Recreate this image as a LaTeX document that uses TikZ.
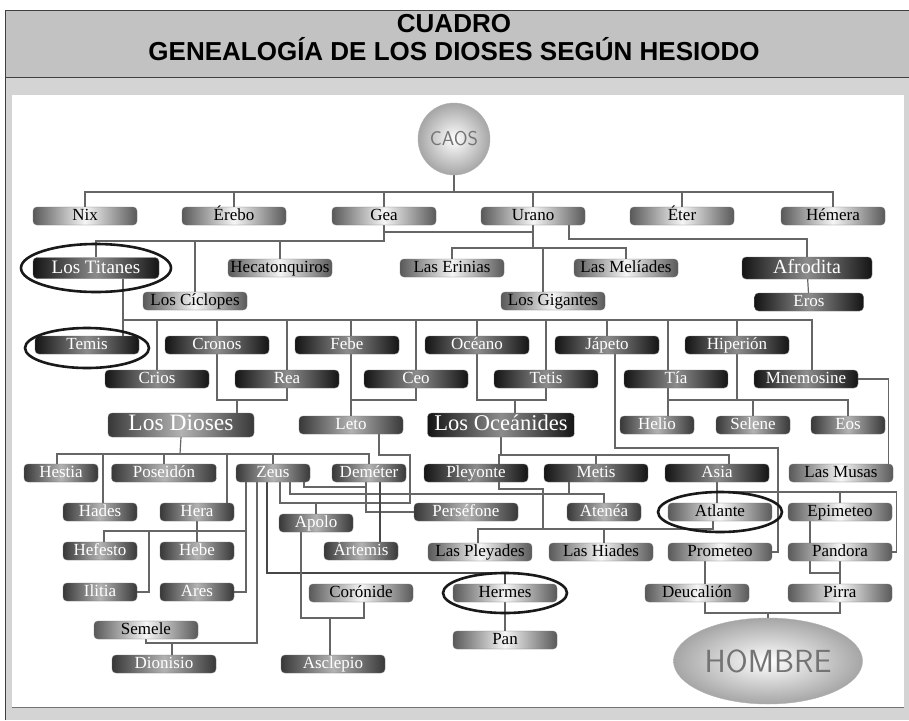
\documentclass[tikz,border=0pt]{standalone}
\usepackage{fontspec}
\newfontfamily\titlefont{Liberation Sans}
\newfontfamily\godfont{Liberation Serif}
\usetikzlibrary{shapes.geometric}
\pgfdeclarelayer{back}
\pgfdeclarelayer{links}
\pgfsetlayers{back,links,main}
\definecolor{headgray}{gray}{0.76}
\definecolor{bodygray}{gray}{0.83}

\begin{document}
\begin{tikzpicture}[x=1pt,y=-1pt,
  godbox/.style={rounded corners=4pt, minimum width=104pt, minimum height=18pt,
    inner sep=0pt, draw=black!55, line width=.4pt,
    left color=black!65, right color=black!65, middle color=black!4,
    text height=11.5pt, text depth=3pt, font=\godfont\fontsize{17}{17}\selectfont},
  goddark/.style={godbox, left color=black!92, right color=black!92, middle color=black!45, text=white},
  godmid/.style={godbox, left color=black!78, right color=black!78, middle color=black!30, text=white},
  godbig/.style={text height=15pt, text depth=4pt, font=\godfont\fontsize{20}{20}\selectfont},
  narrow/.style={minimum width=74pt},
  link/.style={draw=black!60, line width=1.2pt},
  heavy/.style={draw=black!72, line width=2.2pt},
  halo/.style={draw=black!90, line width=2.6pt},
  orb/.style={draw=black!30, inner color=white, outer color=black!35, text=black!55}
]
\useasboundingbox (0,0) rectangle (909,720);

\begin{pgfonlayer}{back}
\fill[bodygray] (5,10) rectangle (909,720);
\fill[headgray] (5,10) rectangle (909,77);
\fill[white] (12,95) rectangle (904,707);
\draw[black!55, line width=1pt] (12,707) -- (904,707);
\draw[black!75, line width=.8pt] (5,720) -- (5,10) -- (909,10);
\draw[black!75, line width=.8pt] (5,77) -- (909,77);
\end{pgfonlayer}

\node[font=\titlefont\bfseries\fontsize{26}{26}\selectfont, anchor=base] (cuadro) at (454,32) {CUADRO};
\node[font=\titlefont\bfseries\fontsize{26}{26}\selectfont, anchor=base] (titulo) at (454,60) {GENEALOGÍA DE LOS DIOSES SEGÚN HESIODO};

\node[orb, circle, minimum size=72pt, font=\sffamily\fontsize{20}{20}\selectfont] (caos) at (454,139) {CAOS};

% primera generacion
\node[godbox] (nix) at (85,216) {Nix};
\node[godbox] (erebo) at (234,216) {Érebo};
\node[godbox] (gea) at (384,216) {Gea};
\node[godbox] (urano) at (533,216) {Urano};
\node[godbox] (eter) at (682,216) {Éter};
\node[godbox] (hemera) at (833,216) {Hémera};

\node[goddark, godbig, font=\godfont\fontsize{19}{19}\selectfont, minimum width=126pt, minimum height=21pt] (titanes) at (96,268) {Los Titanes};
\node[godbox] (hecaton) at (280,268) {Hecatonquiros};
\node[godbox] (erinias) at (452,268) {Las Erinias};
\node[godbox] (meliades) at (626,268) {Las Melíades};
\node[goddark, godbig, minimum width=130pt, minimum height=22pt] (afrodita) at (807,268) {Afrodita};
\node[godbox] (ciclopes) at (195,301) {Los Cíclopes};
\node[godbox] (gigantes) at (553,301) {Los Gigantes};
\node[goddark, minimum width=109pt] (eros) at (809,302) {Eros};

% titanes
\node[goddark] (temis) at (87,345) {Temis};
\node[goddark] (cronos) at (217,345) {Cronos};
\node[goddark] (febe) at (347,345) {Febe};
\node[goddark] (oceano) at (477,345) {Océano};
\node[goddark] (japeto) at (607,345) {Jápeto};
\node[goddark] (hiperion) at (737,345) {Hiperión};
\node[goddark] (crios) at (157,379) {Crios};
\node[goddark] (rea) at (287,379) {Rea};
\node[goddark] (ceo) at (416,379) {Ceo};
\node[goddark] (tetis) at (546,379) {Tetis};
\node[goddark] (tia) at (676,379) {Tía};
\node[goddark] (mnemosine) at (806,379) {Mnemosine};

\node[godmid, godbig, font=\godfont\fontsize{23.5}{23.5}\selectfont, minimum width=146pt, minimum height=24pt] (dioses) at (181,425) {Los Dioses};
\node[godmid] (leto) at (351,425) {Leto};
\node[goddark, godbig, font=\godfont\fontsize{22.5}{22.5}\selectfont, minimum width=147pt, minimum height=24pt] (oceanides) at (501,425) {Los Oceánides};
\node[godmid, narrow] (helio) at (657,425) {Helio};
\node[godmid, narrow] (selene) at (753,425) {Selene};
\node[godmid, narrow] (eos) at (848,425) {Eos};

% dioses y oceanides
\node[godmid, narrow] (hestia) at (61,473) {Hestia};
\node[godmid, minimum width=105pt] (poseidon) at (164,473) {Poseidón};
\node[godmid, narrow] (zeus) at (273,473) {Zeus};
\node[godmid, narrow] (demeter) at (369,473) {Deméter};
\node[goddark] (pleyone) at (476,473) {Pleyonte};
\node[goddark] (metis) at (596,473) {Metis};
\node[goddark] (asia) at (717,473) {Asia};
\node[godbox] (musas) at (841,473) {Las Musas};

\node[godmid, narrow] (hades) at (100,512) {Hades};
\node[godmid, narrow] (hera) at (197,512) {Hera};
\node[godmid, narrow] (apolo) at (316,523) {Apolo};
\node[godmid] (persefone) at (466,512) {Perséfone};
\node[godmid, narrow] (atenea) at (604,512) {Atenéa};
\node[godbox] (atlante) at (720,512) {Atlante};
\node[godbox] (epimeteo) at (840,512) {Epimeteo};

\node[godmid, narrow] (hefesto) at (100,551) {Hefesto};
\node[godmid, narrow] (hebe) at (197,551) {Hebe};
\node[godmid, narrow] (artemis) at (361,551) {Ártemis};
\node[godbox] (pleyades) at (480,552) {Las Pleyades};
\node[godbox] (hiades) at (601,552) {Las Hiades};
\node[godbox] (prometeo) at (720,552) {Prometeo};
\node[godbox] (pandora) at (840,552) {Pandora};

\node[godmid, narrow] (ilitia) at (100,592) {Ilitia};
\node[godmid, narrow] (ares) at (197,592) {Ares};
\node[godbox] (coronide) at (361,593) {Corónide};
\node[godbox] (hermes) at (505,593) {Hermes};
\node[godbox] (deucalion) at (697,593) {Deucalión};
\node[godbox] (pirra) at (840,593) {Pirra};

\node[godbox] (semele) at (146,630) {Semele};
\node[godbox] (pan) at (505,640) {Pan};
\node[godmid] (dionisio) at (164,664) {Dionisio};
\node[godmid] (asclepio) at (333,664) {Asclepio};

\node[orb, ellipse, minimum width=170pt, minimum height=86pt, font=\sffamily\fontsize{32}{32}\selectfont] (hombre) at (768,661) {HOMBRE};

\begin{pgfonlayer}{links}
% Caos
\coordinate (c0) at (454,192);
\draw[link] (caos.south) -- (c0);
\draw[link] (nix.north) |- (c0) -| (hemera.north);
\foreach \g in {erebo,gea,urano,eter}
  \draw[link] (\g.north) -- (\g.north |- c0);
% Gea y Urano
\coordinate (g0) at (384,241);
\draw[link] (gea.south) -- (g0) -| (titanes.north);
\draw[link] (ciclopes.north) -- (ciclopes.north |- g0);
\draw[link] (hecaton.north) -- (hecaton.north |- g0);
\draw[link] (gea.south |- 0,232) -| (urano.south);
\coordinate (u0) at (533,248);
\draw[link] (urano.south) -- (u0);
\draw[link] (erinias.north) |- (u0) -| (meliades.north);
\draw[link] ([xshift=-10pt]gigantes.north) -- ([xshift=-10pt]gigantes.north |- u0);
\draw[link] ([xshift=36pt]urano.south) |- (afrodita.north |- 0,239) -- (afrodita.north);
\draw[link] (afrodita) -- (eros);
% Titanes
\coordinate (t0) at (812,320);
\draw[link] ([xshift=27pt]titanes.south) |- (t0) -- (mnemosine.north -| t0);
\draw[link] ([xshift=27pt]titanes.south) -- ([xshift=36pt]temis.north);
\foreach \g in {crios,japeto,hiperion}
  \draw[link] (\g.north) -- (\g.north |- t0);
\draw[link] (cronos.north |- t0) |- (rea.north |- 0,400) -- (rea.north |- t0);
\draw[link] ([xshift=56pt]dioses.north) -- ++(0,-13);
\draw[link] (leto.north |- t0) -- (leto.north);
\draw[link] (ceo.north |- t0) |- (leto.north |- 0,400);
\draw[link] (oceano.north |- t0) |- (tetis.north |- 0,400) -- (tetis.north |- t0);
\draw[link] ([xshift=14pt]oceanides.north) -- ++(0,-13);
\draw[link] ([xshift=-8pt]tia.north |- t0) -- ([xshift=11pt]helio.north);
\draw[link] ([xshift=11pt]helio.north |- 0,400) -| (eos.north);
\draw[link] (selene.north) -- (selene.north |- 0,400);
\draw[link] (hiperion.south) -- (hiperion.south |- 0,400);
\draw[link] (mnemosine.east) -| ([xshift=-5pt]musas.north east);
% Los Dioses
\coordinate (d0) at (180,454);
\draw[link] (dioses.south) -- (d0);
\draw[link] ([xshift=-4pt]hestia.north) |- (d0) -| (demeter.north);
\draw[link] (poseidon.north) -- (poseidon.north |- d0);
\draw[link] (zeus.north) -- (zeus.north |- d0);
\draw[link] ([xshift=3pt]hades.north) -- ([xshift=3pt]hades.north |- d0);
\draw[link] ([xshift=30pt]hera.north) -- ([xshift=30pt]hera.north |- d0);
% Zeus
\draw[link] ([xshift=28pt]leto.south) |- (410,455) |- ([xshift=7pt]zeus.south |- 0,503) -- ([xshift=7pt]zeus.south);
\draw[link] (apolo.north) -- (apolo.north |- 0,503);
\draw[link] ([xshift=31pt]zeus.south) |- ([xshift=-3pt]demeter.south |- 0,487);
\draw[link] ([xshift=-3pt]demeter.south) |- (persefone.west);
\draw[link] ([xshift=17pt]zeus.south) |- (atenea.north |- 0,494) -- (atenea.north);
\draw[link] ([xshift=-27pt]metis.south) -- ++(0,12);
\draw[heavy] ([xshift=11pt]demeter.south) -- ([xshift=19pt]artemis.north);
\draw[heavy] ([xshift=-6pt]zeus.south) |- (hermes.north |- 0,573) -- (hermes.north);
\draw[link] (hermes) -- (pan);
\draw[link] ([xshift=-16pt]zeus.south) |- (semele.south |- 0,643) -- (semele.south);
\draw[link] ([xshift=8pt]dionisio.north) -- ([xshift=8pt]dionisio.north |- 0,643);
\draw[link] ([xshift=-27pt]zeus.south) |- (ares.east);
\draw[link] ([xshift=-27pt]zeus.south |- 0,531) -| ([xshift=4pt]hefesto.north);
\draw[link] (149,531) |- (ilitia.east);
\draw[link] (hera) -- (hebe);
\draw[link] ([xshift=-15pt]apolo.south) |- ([xshift=3pt]coronide.south |- 0,618) -- ([xshift=3pt]coronide.south);
\draw[link] ([xshift=-3pt]asclepio.north) -- ([xshift=-3pt]asclepio.north |- 0,618);
% Oceanides
\draw[link] (oceanides.south) -- (oceanides.south |- 0,455);
\draw[link] ([xshift=23pt]pleyone.north) |- ([xshift=12pt]asia.north |- 0,455) -- ([xshift=12pt]asia.north);
\draw[link] (metis.north) -- (metis.north |- 0,455);
\draw[link] ([xshift=23pt]pleyone.south) |- (543,489) -- (543,529);
\draw[link] ([xshift=-2pt]pleyades.north) |- ([xshift=-7pt]atlante.south |- 0,529) -- ([xshift=-7pt]atlante.south);
\draw[link] ([xshift=3pt]hiades.north) -- ([xshift=3pt]hiades.north |- 0,529);
\draw[link] (asia.south) -- (asia.south |- atlante.north);
\draw[link] (asia.south |- 0,492) -| ([xshift=4pt]pandora.east) -- (pandora.east);
\draw[link] (epimeteo.north) -- (epimeteo.north |- 0,492);
% Japeto
\draw[link] ([xshift=8pt]japeto.south) |- (778,448) |- (prometeo.east);
\draw[link] ([xshift=-30pt]epimeteo.south) |- (pandora.south |- 0,573);
\draw[link] (pandora) -- (pirra);
% Hombre
\draw[link] ([xshift=-15pt]prometeo.south) |- (pirra.south |- 0,613) -- (pirra.south);
\draw[link] (hombre.north) -- (hombre.north |- 0,613);
\end{pgfonlayer}

% resaltados
\draw[halo] (titanes.center) ellipse [x radius=75pt, y radius=24pt];
\draw[halo] ([yshift=-3pt]temis.center) ellipse [x radius=62pt, y radius=20pt];
\draw[halo] (atlante.center) ellipse [x radius=62pt, y radius=20pt];
\draw[halo] (hermes.center) ellipse [x radius=62pt, y radius=20pt];
\end{tikzpicture}
\end{document}
